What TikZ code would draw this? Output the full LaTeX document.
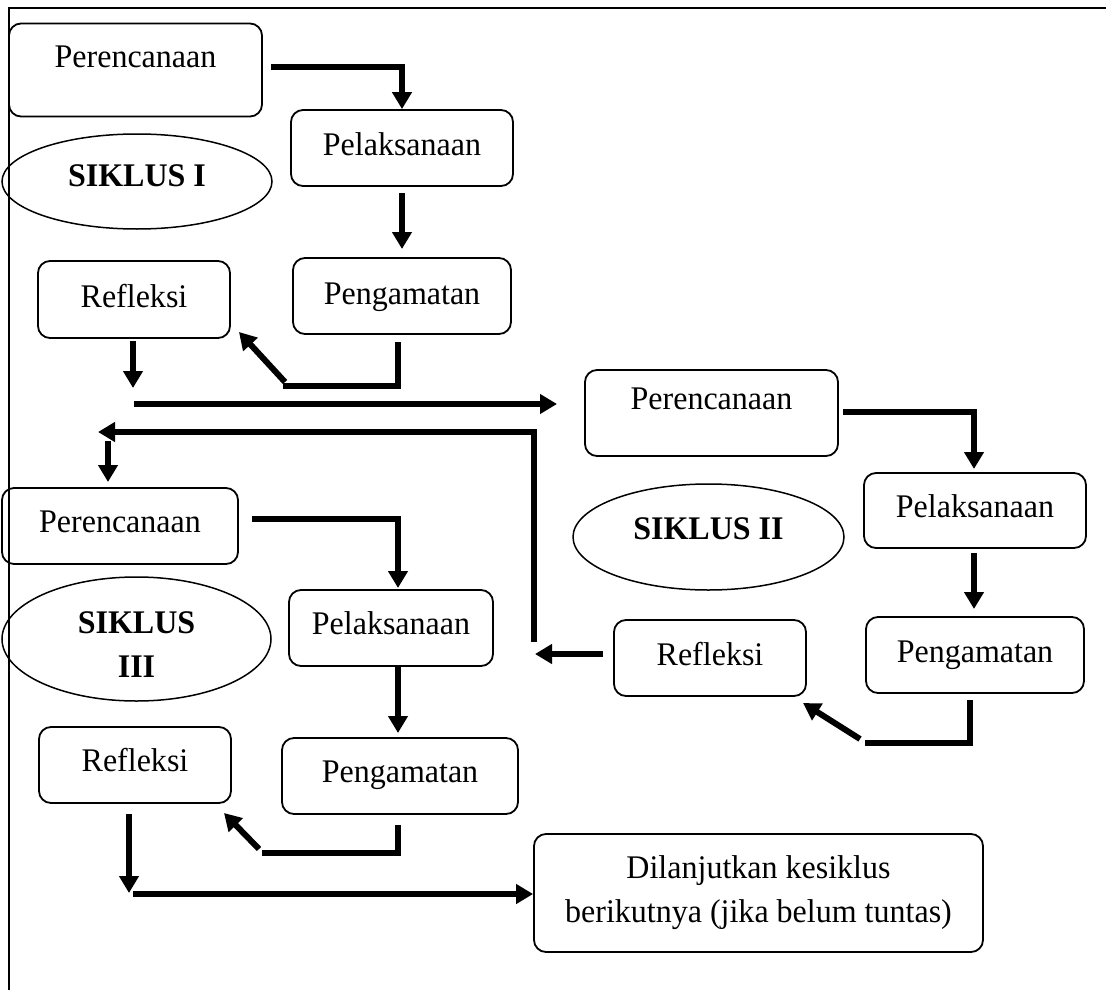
\documentclass[tikz,border=0pt]{standalone}
\usepackage{fontspec}
\setmainfont{Liberation Serif}[FakeStretch=0.97]
\usetikzlibrary{arrows.meta,shapes.geometric}
\tikzset{
  txt/.style={text height=22pt, text depth=#1},
  txt/.default=10pt,
  box/.style={draw, line width=1.8pt, rounded corners=12pt, inner sep=0pt, align=center},
  oval/.style={draw, ellipse, line width=1.5pt, inner sep=0pt, align=center, font=\fontsize{33}{44}\selectfont\bfseries},
  arr/.style={line width=6pt, -{Triangle[width=19pt,length=17pt]}},
  bar/.style={line width=6pt},
}
\begin{document}
\begin{tikzpicture}[x=1pt,y=-1pt, every node/.append style={font=\fontsize{33}{44}\selectfont}]
\useasboundingbox (0,0) rectangle (1106,990);
% frame
\coordinate (fa) at (9,990);
\coordinate (fb) at (9,8);
\coordinate (fc) at (1106,8);
\draw[line width=1.7pt] (fa) -- (fb);
\draw[line width=2.6pt] (8,8) -- (fc);

% ---------- cycle I ----------
\node[box, txt=27pt, minimum width=253pt, minimum height=93pt] (p1) at (135.5,70) {Perencanaan};
\node[box, txt=8pt, minimum width=222pt, minimum height=76pt] (pel1) at (402,148) {Pelaksanaan};
\node[box, txt=6pt, minimum width=218pt, minimum height=76pt] (peng1) at (402,296) {Pengamatan};
\node[box, txt=6pt, minimum width=192pt, minimum height=77pt] (ref1) at (134,299.5) {Refleksi};
\node[oval, txt=13pt, minimum width=270pt, minimum height=95pt] (e1) at (137,181.5) {SIKLUS I};

% ---------- cycle II ----------
\node[box, txt=30pt, minimum width=253pt, minimum height=86pt] (p2) at (711.5,413) {Perencanaan};
\node[box, txt=9pt, minimum width=222pt, minimum height=75pt] (pel2) at (975,510.5) {Pelaksanaan};
\node[box, txt=8pt, minimum width=218pt, minimum height=76pt] (peng2) at (975,655) {Pengamatan};
\node[box, txt=8pt, minimum width=192pt, minimum height=76pt] (ref2) at (710,658) {Refleksi};
\node[oval, txt=18pt, minimum width=271pt, minimum height=106pt] (e2) at (708.5,537) {SIKLUS II};

% ---------- cycle III ----------
\node[box, txt=10pt, minimum width=236pt, minimum height=76pt] (p3) at (120,526) {Perencanaan};
\node[box, txt=10pt, minimum width=204pt, minimum height=76pt] (pel3) at (391,628) {Pelaksanaan};
\node[box, txt=10pt, minimum width=236pt, minimum height=76pt] (peng3) at (400,776) {Pengamatan};
\node[box, txt=10pt, minimum width=192pt, minimum height=76pt] (ref3) at (135,765) {Refleksi};
\node[oval, text height=76pt, text depth=0pt, minimum width=269pt, minimum height=124pt] (e3) at (136.5,639) {SIKLUS\\III};

% ---------- final ----------
\node[box, text height=65pt, text depth=7pt, minimum width=449pt, minimum height=118pt] (fin) at (758.5,893) {Dilanjutkan kesiklus\\berikutnya (jika belum tuntas)};

% ---------- connectors cycle I ----------
\coordinate (a1s) at (271,67);
\coordinate (a1k) at (402,67);
\draw[arr] (a1s) -- (a1k) -- (pel1.north);
\coordinate (a2s) at (402,193);
\coordinate (a2e) at (402,249);
\draw[arr] (a2s) -- (a2e);
\coordinate (a3s) at (398,342);
\coordinate (a3k) at (398,386);
\coordinate (a3e) at (283,386);
\draw[bar] (a3s) -- (a3k) -- (a3e);
\coordinate (a3d) at (285,382);
\coordinate (a3t) at (239,332);
\draw[arr] (a3d) -- (a3t);
\coordinate (a4s) at (133,341);
\coordinate (a4e) at (133,388);
\draw[arr] (a4s) -- (a4e);
\coordinate (a5s) at (134,404);
\coordinate (a5e) at (557,404);
\draw[arr] (a5s) -- (a5e);

% ---------- connectors cycle II ----------
\coordinate (b1s) at (843,412);
\coordinate (b1k) at (974,412);
\coordinate (b1e) at (974,469);
\draw[arr] (b1s) -- (b1k) -- (b1e);
\coordinate (b2s) at (974,553);
\coordinate (b2e) at (974,609);
\draw[arr] (b2s) -- (b2e);
\coordinate (b3s) at (970,700);
\coordinate (b3k) at (970,743);
\coordinate (b3e) at (865,743);
\draw[bar] (b3s) -- (b3k) -- (b3e);
\coordinate (b3d) at (860,739);
\coordinate (b3t) at (803,703);
\draw[arr] (b3d) -- (b3t);
\coordinate (b4s) at (603,654);
\coordinate (b4e) at (535,654);
\draw[arr] (b4s) -- (b4e);
\coordinate (b5s) at (534,642);
\coordinate (b5k) at (534,432);
\coordinate (b5e) at (98,432);
\draw[arr] (b5s) -- (b5k) -- (b5e);
\coordinate (b6s) at (108,441);
\coordinate (b6e) at (108,482);
\draw[arr] (b6s) -- (b6e);

% ---------- connectors cycle III ----------
\coordinate (c1s) at (252,519);
\coordinate (c1k) at (398,519);
\coordinate (c1e) at (398,588);
\draw[arr] (c1s) -- (c1k) -- (c1e);
\coordinate (c2s) at (398,667);
\coordinate (c2e) at (398,733);
\draw[arr] (c2s) -- (c2e);
\coordinate (c3s) at (398,825);
\coordinate (c3k) at (398,853);
\coordinate (c3e) at (262,853);
\draw[bar] (c3s) -- (c3k) -- (c3e);
\coordinate (c3d) at (259,849);
\coordinate (c3t) at (224,813);
\draw[arr] (c3d) -- (c3t);
\coordinate (c4s) at (129,814);
\coordinate (c4e) at (129,893);
\draw[arr] (c4s) -- (c4e);
\coordinate (c5s) at (133,894);
\draw[arr] (c5s) -- (fin.west |- c5s);
\end{tikzpicture}
\end{document}
